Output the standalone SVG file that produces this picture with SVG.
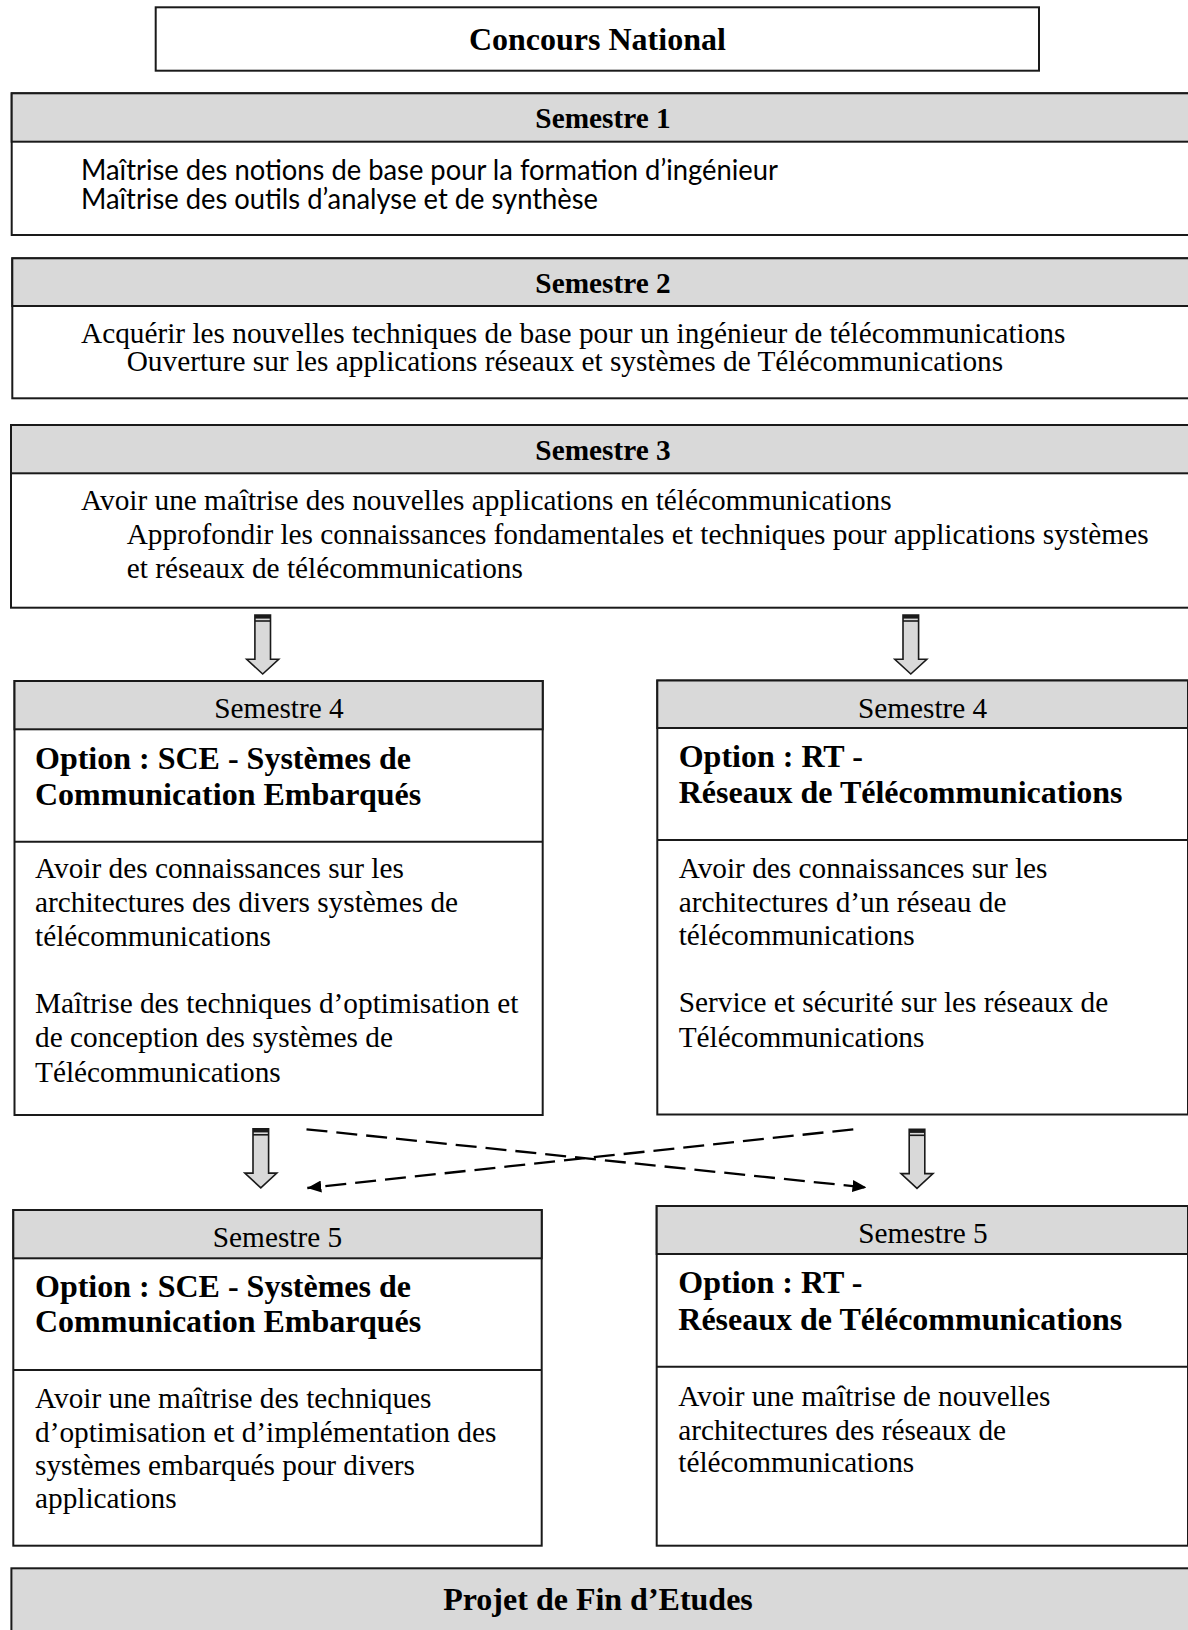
<svg xmlns="http://www.w3.org/2000/svg" xmlns:xlink="http://www.w3.org/1999/xlink" width="1188" height="1630" viewBox="0 0 1188 1630">
<style>
.box{fill:#ffffff;stroke:#1a1a1a;stroke-width:2}
.hdr{fill:#d9d9d9;stroke:#1a1a1a;stroke-width:2}
.sep{stroke:#1a1a1a;stroke-width:2}
.serif{font-family:"Liberation Serif","Times New Roman",serif;fill:#000}
.b{font-weight:bold}
.t22{font-size:29.3px}
.t24{font-size:32px}
.sans{font-family:"Lato","Open Sans","Liberation Sans",sans-serif;font-size:28px;fill:#000}
.mid{text-anchor:middle}
.dash{fill:none;stroke:#000;stroke-width:2.3;stroke-dasharray:21 9}
</style>
<defs>
<g id="blockArrow">
<path d="M-7.8,0 H7.8 V44.3 H16 L0,59 L-16,44.3 H-7.8 Z" fill="#d9d9d9" stroke="#1a1a1a" stroke-width="1.6" stroke-linejoin="miter"/>
<rect x="-7.8" y="0" width="15.6" height="3.6" fill="#1a1a1a"/>
<line x1="-7.8" y1="6" x2="7.8" y2="6" stroke="#1a1a1a" stroke-width="1.6"/>
</g>
<marker id="ah" viewBox="0 0 14 12" refX="14" refY="6" markerWidth="14" markerHeight="12" markerUnits="userSpaceOnUse" orient="auto">
<path d="M0,0 L14,6 L0,12 Z" fill="#000"/>
</marker>
</defs>

<g id="concours">
<rect class="box" x="155.7" y="7.3" width="883.3" height="63.4"/>
<text class="serif b t24 mid" x="597.4" y="50">Concours National</text>
</g>

<g id="semestre1">
<rect class="box" x="11.7" y="93.3" width="1182" height="141.7"/>
<rect class="hdr" x="11.7" y="93.3" width="1182" height="48.4"/>
<text class="serif b t22 mid" x="603" y="128">Semestre 1</text>
<text class="sans" x="81" y="180" textLength="697" lengthAdjust="spacingAndGlyphs">Maîtrise des notions de base pour la formation d’ingénieur</text>
<text class="sans" x="81" y="209" textLength="517" lengthAdjust="spacingAndGlyphs">Maîtrise des outils d’analyse et de synthèse</text>
</g>

<g id="semestre2">
<rect class="box" x="12.3" y="258.3" width="1182" height="140"/>
<rect class="hdr" x="12.3" y="258.3" width="1182" height="47.7"/>
<text class="serif b t22 mid" x="603" y="292.5">Semestre 2</text>
<text class="serif t22" x="81" y="343">Acquérir les nouvelles techniques de base pour un ingénieur de télécommunications</text>
<text class="serif t22" x="126.7" y="371">Ouverture sur les applications réseaux et systèmes de Télécommunications</text>
</g>

<g id="semestre3">
<rect class="box" x="11" y="425" width="1183" height="182.7"/>
<rect class="hdr" x="11" y="425" width="1183" height="48.3"/>
<text class="serif b t22 mid" x="603" y="459.5">Semestre 3</text>
<text class="serif t22" x="81" y="510">Avoir une maîtrise des nouvelles applications en télécommunications</text>
<text class="serif t22" x="126.7" y="544">Approfondir les connaissances fondamentales et techniques pour applications systèmes</text>
<text class="serif t22" x="126.7" y="578.3">et réseaux de télécommunications</text>
</g>

<g id="s4-sce">
<rect class="box" x="14.5" y="681" width="528.2" height="434"/>
<rect class="hdr" x="14.5" y="681" width="528.2" height="48.3"/>
<line class="sep" x1="14.5" y1="841.7" x2="542.7" y2="841.7"/>
<text class="serif t22 mid" x="279" y="718.3">Semestre 4</text>
<text class="serif b t24" x="35" y="769.3">Option : SCE - Systèmes de</text>
<text class="serif b t24" x="35" y="805">Communication Embarqués</text>
<text class="serif t22" x="35" y="878.3">Avoir des connaissances sur les</text>
<text class="serif t22" x="35" y="912">architectures des divers systèmes de</text>
<text class="serif t22" x="35" y="946">télécommunications</text>
<text class="serif t22" x="35" y="1013.3">Maîtrise des techniques d’optimisation et</text>
<text class="serif t22" x="35" y="1047">de conception des systèmes de</text>
<text class="serif t22" x="35" y="1081.7">Télécommunications</text>
</g>

<g id="s4-rt">
<rect class="box" x="657.3" y="680.5" width="530.7" height="434"/>
<rect class="hdr" x="657.3" y="680.5" width="530.7" height="47.5"/>
<line class="sep" x1="657.3" y1="840" x2="1188" y2="840"/>
<text class="serif t22 mid" x="922.6" y="717.5">Semestre 4</text>
<text class="serif b t24" x="678.7" y="767">Option : RT -</text>
<text class="serif b t24" x="678.7" y="803.3">Réseaux de Télécommunications</text>
<text class="serif t22" x="678.7" y="878.3">Avoir des connaissances sur les</text>
<text class="serif t22" x="678.7" y="912">architectures d’un réseau de</text>
<text class="serif t22" x="678.7" y="945.3">télécommunications</text>
<text class="serif t22" x="678.7" y="1012">Service et sécurité sur les réseaux de</text>
<text class="serif t22" x="678.7" y="1046.7">Télécommunications</text>
</g>

<g id="s5-sce">
<rect class="box" x="13.3" y="1210" width="528.4" height="335.7"/>
<rect class="hdr" x="13.3" y="1210" width="528.4" height="48.3"/>
<line class="sep" x1="13.3" y1="1370" x2="541.7" y2="1370"/>
<text class="serif t22 mid" x="277.5" y="1246.7">Semestre 5</text>
<text class="serif b t24" x="35" y="1296.7">Option : SCE - Systèmes de</text>
<text class="serif b t24" x="35" y="1331.7">Communication Embarqués</text>
<text class="serif t22" x="35" y="1408.3">Avoir une maîtrise des techniques</text>
<text class="serif t22" x="35" y="1441.7">d’optimisation et d’implémentation des</text>
<text class="serif t22" x="35" y="1475">systèmes embarqués pour divers</text>
<text class="serif t22" x="35" y="1508.3">applications</text>
</g>

<g id="s5-rt">
<rect class="box" x="656.7" y="1206" width="531.3" height="339.7"/>
<rect class="hdr" x="656.7" y="1206" width="531.3" height="48"/>
<line class="sep" x1="656.7" y1="1366.7" x2="1188" y2="1366.7"/>
<text class="serif t22 mid" x="923" y="1243.3">Semestre 5</text>
<text class="serif b t24" x="678.3" y="1293.3">Option : RT -</text>
<text class="serif b t24" x="678.3" y="1330">Réseaux de Télécommunications</text>
<text class="serif t22" x="678.3" y="1406">Avoir une maîtrise de nouvelles</text>
<text class="serif t22" x="678.3" y="1440">architectures des réseaux de</text>
<text class="serif t22" x="678.3" y="1471.7">télécommunications</text>
</g>

<g id="pfe">
<rect class="hdr" x="11.4" y="1568.3" width="1183" height="80"/>
<text class="serif b t24 mid" x="598" y="1610">Projet de Fin d’Etudes</text>
</g>

<g id="connectors">
<use xlink:href="#blockArrow" href="#blockArrow" x="262.7" y="615"/>
<use xlink:href="#blockArrow" href="#blockArrow" x="910.8" y="615"/>
<use xlink:href="#blockArrow" href="#blockArrow" x="260.8" y="1128.8"/>
<use xlink:href="#blockArrow" href="#blockArrow" x="917" y="1129.3"/>
<line class="dash" x1="306.5" y1="1129.3" x2="866.5" y2="1187.5" marker-end="url(#ah)"/>
<line class="dash" x1="853.3" y1="1129.3" x2="307.3" y2="1188" marker-end="url(#ah)"/>
</g>
</svg>
